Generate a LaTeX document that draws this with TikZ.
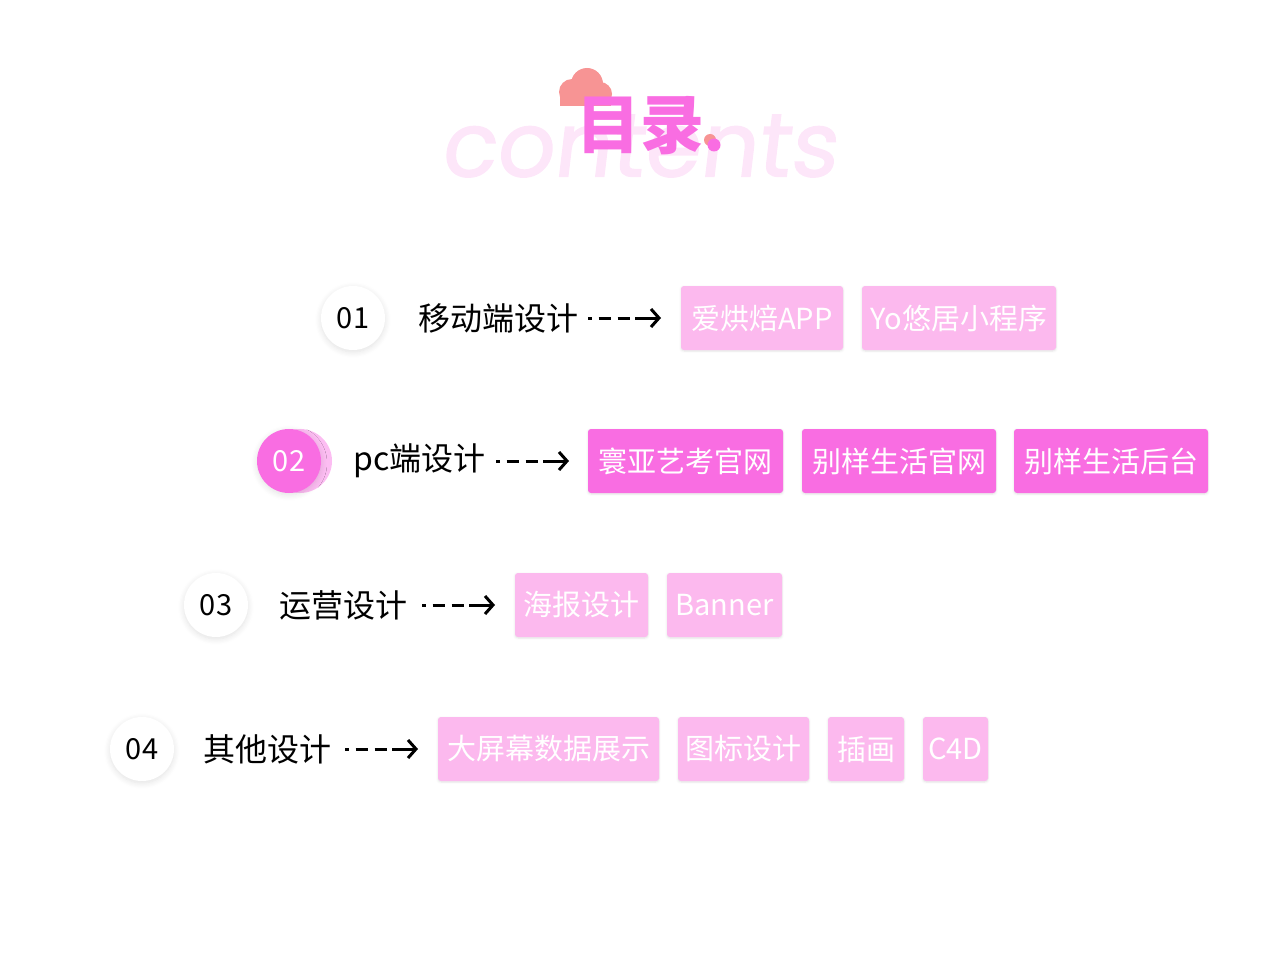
\documentclass[tikz,border=0pt]{standalone}
\usepackage{fontspec}
\setmainfont{Noto Sans CJK SC}
\newfontfamily\latf{Poppins}
\usetikzlibrary{shadows.blur,arrows.meta,calc}
\definecolor{lpink}{HTML}{FCB9EE}
\definecolor{dpink}{HTML}{F96DE2}
\definecolor{ghost}{HTML}{FDE6F9}
\definecolor{coral}{HTML}{F79494}
\tikzset{
 lbox/.style={fill=lpink,rounded corners=3pt,text=white,font=\fontsize{29}{30}\selectfont,inner sep=0pt,blur shadow={shadow blur steps=5,shadow xshift=0pt,shadow yshift=-1pt,shadow opacity=12}},
 dbox/.style={lbox,fill=dpink},
 numc/.style={circle,fill=white,minimum size=64pt,font=\fontsize{29}{30}\selectfont,blur shadow={shadow blur steps=10,shadow blur radius=6pt,shadow xshift=0pt,shadow yshift=-2pt,shadow opacity=12}},
 lab/.style={anchor=west,font=\fontsize{32}{34}\selectfont,inner sep=0pt},
 arr/.style={line width=3pt,black}
}
\newcommand{\mkbox}[5]{\node[#1,minimum width=#3pt-#2pt,minimum height=64pt] (#5) at ({(#2+#3)/2},#4) {#5};}
\begin{document}
\begin{tikzpicture}[x=1pt,y=-1pt]
\useasboundingbox (0,0) rectangle (1280,960);
% title
\node[font=\latf\fontsize{90}{90}\selectfont,text=ghost,xslant=0.12] (cont) at (642,146) {\addfontfeature{FakeBold=1.5}contents};
\fill[coral] (572,92) circle (13) (587,84) circle (16) (600,94) circle (12);
\fill[coral] (560,92) rectangle (611,106);
\fill[white] (556,106) rectangle (615,112);
\node[font=\bfseries\fontsize{64}{64}\selectfont,text=dpink] (title) at (640,126) {目录};
\fill[coral] (710,140) circle (6);
\fill[dpink] (714,145) circle (6.5);
% row1
\node[numc] (n1) at (353,318) {01};
\node[lab] (t1) at (418,318) {移动端设计};
\coordinate (a1) at (588,318);
\mkbox{lbox}{681}{843}{318}{爱烘焙APP}
\mkbox{lbox}{862}{1056}{318}{Yo悠居小程序}
% row2
\fill[dpink!45] (300,461) circle (32);
\node[numc,fill=dpink,text=white] (n2) at (289,461) {02};
\node[lab] (t2) at (353,461) {pc端设计};
\coordinate (a2) at (496,461);
\mkbox{dbox}{588}{783}{461}{寰亚艺考官网}
\mkbox{dbox}{802}{996}{461}{别样生活官网}
\mkbox{dbox}{1014}{1208}{461}{别样生活后台}
% row3
\node[numc] (n3) at (216,605) {03};
\node[lab] (t3) at (279,605) {运营设计};
\coordinate (a3) at (422,605);
\mkbox{lbox}{515}{648}{605}{海报设计}
\mkbox{lbox}{667}{782}{605}{Banner}
% row4
\node[numc] (n4) at (142,749) {04};
\node[lab] (t4) at (203,749) {其他设计};
\coordinate (a4) at (345,749);
\mkbox{lbox}{438}{659}{749}{大屏幕数据展示}
\mkbox{lbox}{678}{809}{749}{图标设计}
\mkbox{lbox}{828}{904}{749}{插画}
\mkbox{lbox}{923}{988}{749}{C4D}
\foreach \a in {a1,a2,a3,a4}{
 \draw[arr] (\a) -- ++(3.5,0) ++(7,0) -- ++(12,0) ++(7,0) -- ++(12,0);
 \draw[arr,-{Straight Barb[length=8pt,width=18pt,line width=3pt]}] ($(\a)+(47,0)$) -- ++(26,0);
}
\end{tikzpicture}
\end{document}
